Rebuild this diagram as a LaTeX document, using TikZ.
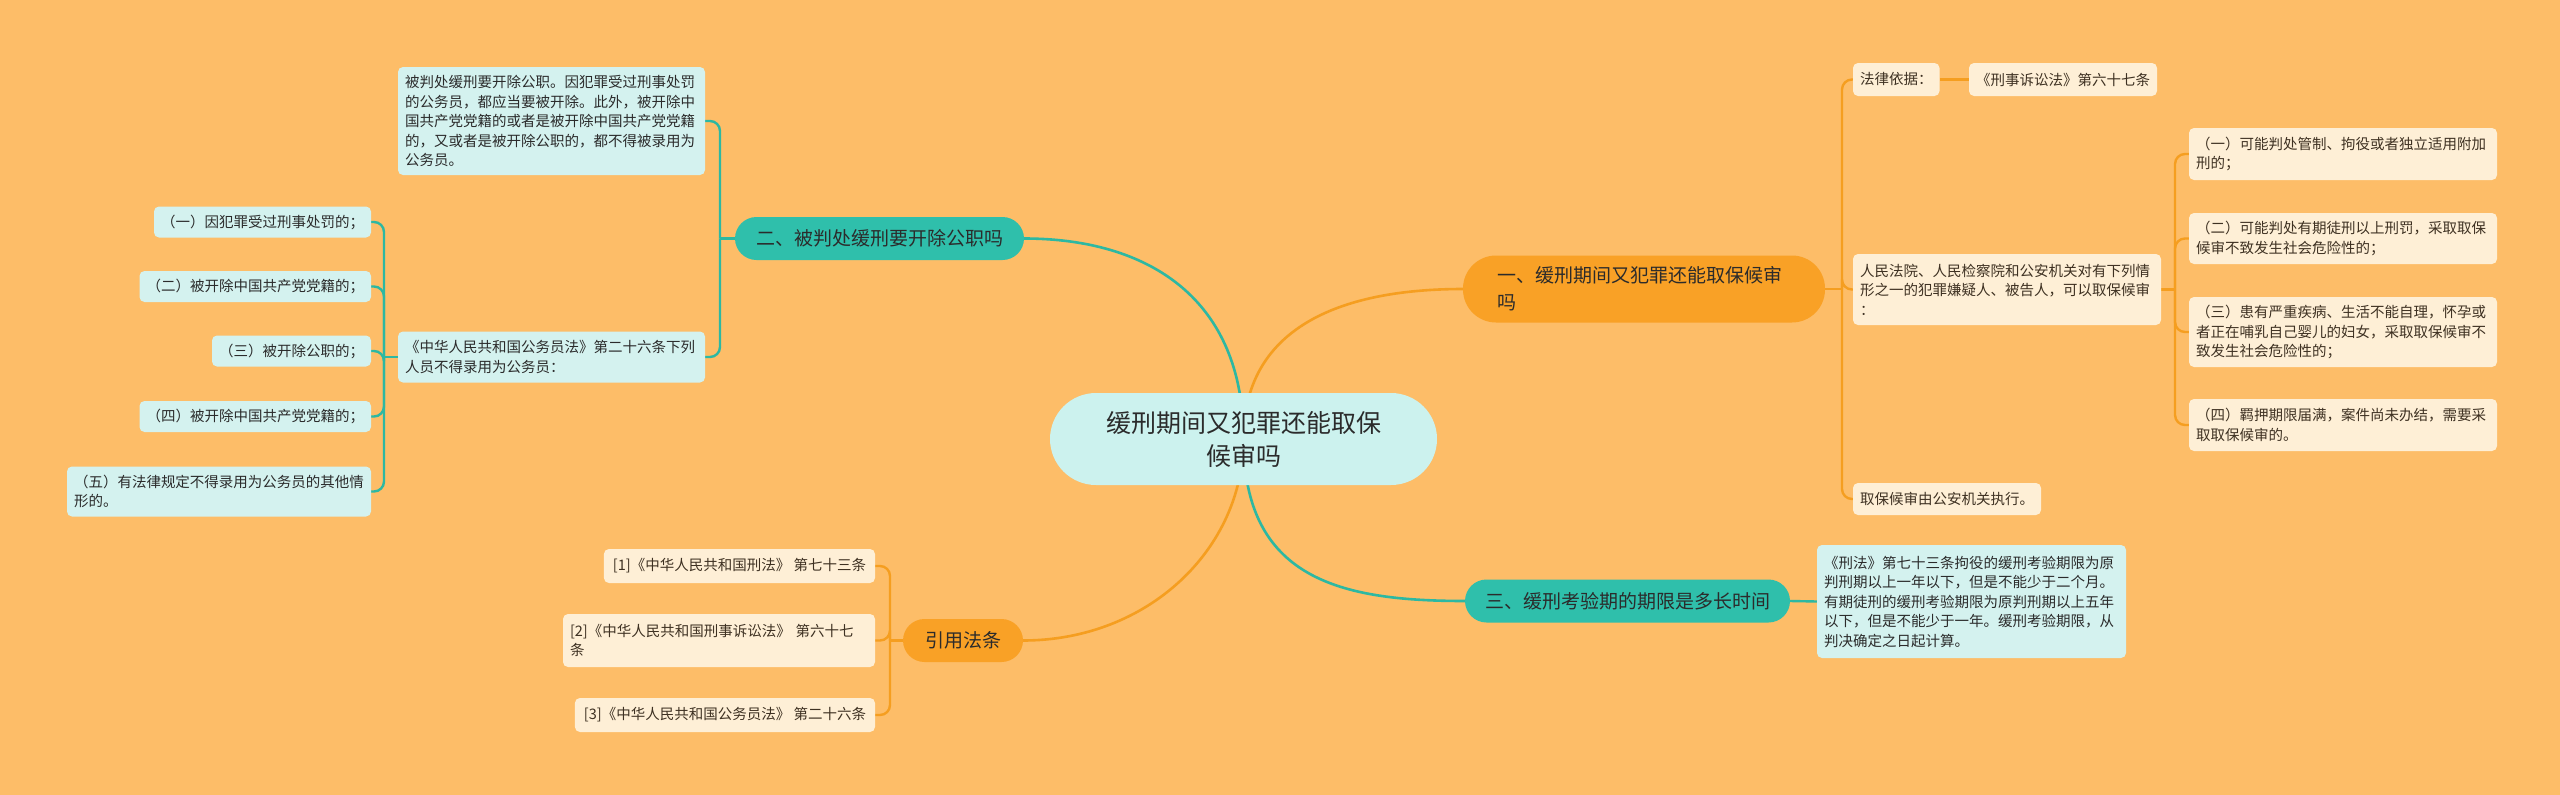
\documentclass[tikz,border=0pt]{standalone}
\usepackage{fontspec}
\setmainfont{Noto Sans CJK SC}
\usetikzlibrary{backgrounds}
\definecolor{bgc}{HTML}{FDBD68}
\definecolor{tealnode}{HTML}{2FBFAB}
\definecolor{orangenode}{HTML}{F9A126}
\definecolor{rootfill}{HTML}{CCF2EE}
\definecolor{tealleaf}{HTML}{D4F2EF}
\definecolor{cream}{HTML}{FEEFD6}
\definecolor{tealline}{HTML}{2DB8A2}
\definecolor{orangeline}{HTML}{F59E20}
\definecolor{darktext}{HTML}{2B2B2B}
\definecolor{creamtext}{HTML}{3E3122}
\begin{document}
\begin{tikzpicture}[x=1pt,y=-1pt,
  every node/.style={inner sep=0pt, outer sep=0pt},
  leaf/.style={rounded corners=5pt, inner xsep=7pt, inner ysep=0pt, align=left,
    font=\fontsize{14.5pt}{19.5pt}\selectfont},
  tleaf/.style={leaf, fill=tealleaf, text=darktext},
  oleaf/.style={leaf, fill=cream, text=creamtext},
  branchT/.style={fill=tealnode, text=darktext, minimum height=43pt, rounded corners=21.5pt,
    font=\fontsize{19pt}{27pt}\selectfont, align=center},
  branchO/.style={fill=orangenode, text=darktext, rounded corners=21.5pt,
    font=\fontsize{19pt}{27pt}\selectfont},
  tmain/.style={draw=tealline, line width=2.6pt},
  omain/.style={draw=orangeline, line width=2.6pt},
  tline/.style={draw=tealline, line width=2.4pt, rounded corners=10pt},
  oline/.style={draw=orangeline, line width=2.4pt, rounded corners=10pt}
]
\useasboundingbox (0,0) rectangle (2560,795);

% root
\node[fill=rootfill, text=darktext, minimum width=387pt, minimum height=92pt, rounded corners=46pt,
  font=\fontsize{25pt}{33pt}\selectfont, align=center] (root) at (1243.5,439)
  {缓刑期间又犯罪还能取保\\候审吗};

% main branches
\node[branchT, minimum width=289pt] (b2) at (879.5,238.5) {二、被判处缓刑要开除公职吗};
\node[branchO, anchor=west, minimum width=362pt, minimum height=67pt, rounded corners=33pt,
  text width=294pt, inner xsep=34pt, align=left, font=\fontsize{19pt}{27pt}\selectfont] (b1) at (1463,289)
  {一、缓刑期间又犯罪还能取保候审\\吗};
\node[branchT, minimum width=325pt] (b3) at (1627.5,601) {三、缓刑考验期的期限是多长时间};
\node[branchO, minimum width=120pt, minimum height=43pt, align=center] (bq) at (963,640.5) {引用法条};

% left group of 二
\node[tleaf, anchor=west, text width=293pt, minimum height=108pt] (lbei) at (398,121)
  {被判处缓刑要开除公职。因犯罪受过刑事处罚\\的公务员，都应当要被开除。此外，被开除中\\国共产党党籍的或者是被开除中国共产党党籍\\的，又或者是被开除公职的，都不得被录用为\\公务员。};
\node[tleaf, anchor=west, text width=293pt, minimum height=51pt] (lgwy) at (398,357)
  {《中华人民共和国公务员法》第二十六条下列\\人员不得录用为公务员：};
\node[tleaf, anchor=east, minimum height=31pt] (g1) at (371,222) {（一）因犯罪受过刑事处罚的；};
\node[tleaf, anchor=east, minimum height=31pt] (g2) at (371,286.5) {（二）被开除中国共产党党籍的；};
\node[tleaf, anchor=east, minimum height=31pt] (g3) at (371,351) {（三）被开除公职的；};
\node[tleaf, anchor=east, minimum height=31pt] (g4) at (371,416.5) {（四）被开除中国共产党党籍的；};
\node[tleaf, anchor=east, minimum height=50pt] (g5) at (371,491.5) {（五）有法律规定不得录用为公务员的其他情\\形的。};

% citations
\node[oleaf, anchor=east, minimum height=34pt, inner xsep=9pt] (c1) at (875,566) {[1]《中华人民共和国刑法》 第七十三条};
\node[oleaf, anchor=east, minimum height=53pt, text width=298pt] (c2) at (875,640.5) {[2]《中华人民共和国刑事诉讼法》 第六十七\\条};
\node[oleaf, anchor=east, minimum height=34pt, inner xsep=9pt] (c3) at (875,715) {[3]《中华人民共和国公务员法》 第二十六条};

% right group of 一
\node[oleaf, anchor=west, minimum height=33pt] (fa) at (1853,79.5) {法律依据：};
\node[oleaf, anchor=west, minimum height=33pt] (xs) at (1969,79.5) {《刑事诉讼法》第六十七条};
\node[oleaf, anchor=west, text width=294pt, minimum height=71pt] (rm) at (1853,289.5)
  {人民法院、人民检察院和公安机关对有下列情\\形之一的犯罪嫌疑人、被告人，可以取保候审\\：};
\node[oleaf, anchor=west, minimum height=32pt] (qb) at (1853,499) {取保候审由公安机关执行。};
\node[oleaf, anchor=west, text width=294pt, minimum height=52pt] (r1) at (2189,154)
  {（一）可能判处管制、拘役或者独立适用附加\\刑的；};
\node[oleaf, anchor=west, text width=294pt, minimum height=51pt] (r2) at (2189,238.5)
  {（二）可能判处有期徒刑以上刑罚，采取取保\\候审不致发生社会危险性的；};
\node[oleaf, anchor=west, text width=294pt, minimum height=70pt] (r3) at (2189,332)
  {（三）患有严重疾病、生活不能自理，怀孕或\\者正在哺乳自己婴儿的妇女，采取取保候审不\\致发生社会危险性的；};
\node[oleaf, anchor=west, text width=294pt, minimum height=52pt] (r4) at (2189,425)
  {（四）羁押期限届满，案件尚未办结，需要采\\取取保候审的。};

% 三 child
\node[tleaf, anchor=west, text width=295pt, minimum height=113pt] (xf) at (1817,601.5)
  {《刑法》第七十三条拘役的缓刑考验期限为原\\判刑期以上一年以下，但是不能少于二个月。\\有期徒刑的缓刑考验期限为原判刑期以上五年\\以下，但是不能少于一年。缓刑考验期限，从\\判决确定之日起计算。};

% junctions
\coordinate (j1) at (1842,289);
\coordinate (j2) at (720,238.5);
\coordinate (j3) at (384,357);
\coordinate (j4) at (890,640.5);
\coordinate (j5) at (2175,289.5);

\begin{scope}[on background layer]
  \fill[bgc] (0,0) rectangle (2560,795);
  % main curves
  \draw[tmain] (root.center) .. controls +(0,-140) and +(125,0) .. (b2.east);
  \draw[tmain] (root.center) .. controls +(0,140) and +(-125,0) .. (b3.west);
  \draw[omain] (root.center) .. controls +(0,-110) and +(-125,0) .. (b1.west);
  \draw[omain] (root.center) .. controls +(0,110) and +(125,0) .. (bq.east);
  % 二 group
  \draw[tline] (b2.west) -- (j2);
  \draw[tline] (j2) |- (lbei.east);
  \draw[tline] (j2) |- (lgwy.east);
  \draw[tline] (lgwy.west) -- (j3);
  \draw[tline] (j3) |- (g1.east);
  \draw[tline] (j3) |- (g2.east);
  \draw[tline] (j3) |- (g3.east);
  \draw[tline] (j3) |- (g4.east);
  \draw[tline] (j3) |- (g5.east);
  % citations
  \draw[oline] (bq.west) -- (j4);
  \draw[oline] (j4) |- (c1.east);
  \draw[oline] (j4) |- (c2.east);
  \draw[oline] (j4) |- (c3.east);
  % 一 group
  \draw[oline] (b1.east) -- (j1);
  \draw[oline] (j1) |- (fa.west);
  \draw[oline] (j1) |- (rm.west);
  \draw[oline] (j1) |- (qb.west);
  \draw[oline] (fa.east) -- (xs.west);
  \draw[oline] (rm.east) -- (j5);
  \draw[oline] (j5) |- (r1.west);
  \draw[oline] (j5) |- (r2.west);
  \draw[oline] (j5) |- (r3.west);
  \draw[oline] (j5) |- (r4.west);
  % 三
  \draw[tline] (b3.east) -- (xf.west);
\end{scope}
\end{tikzpicture}
\end{document}
